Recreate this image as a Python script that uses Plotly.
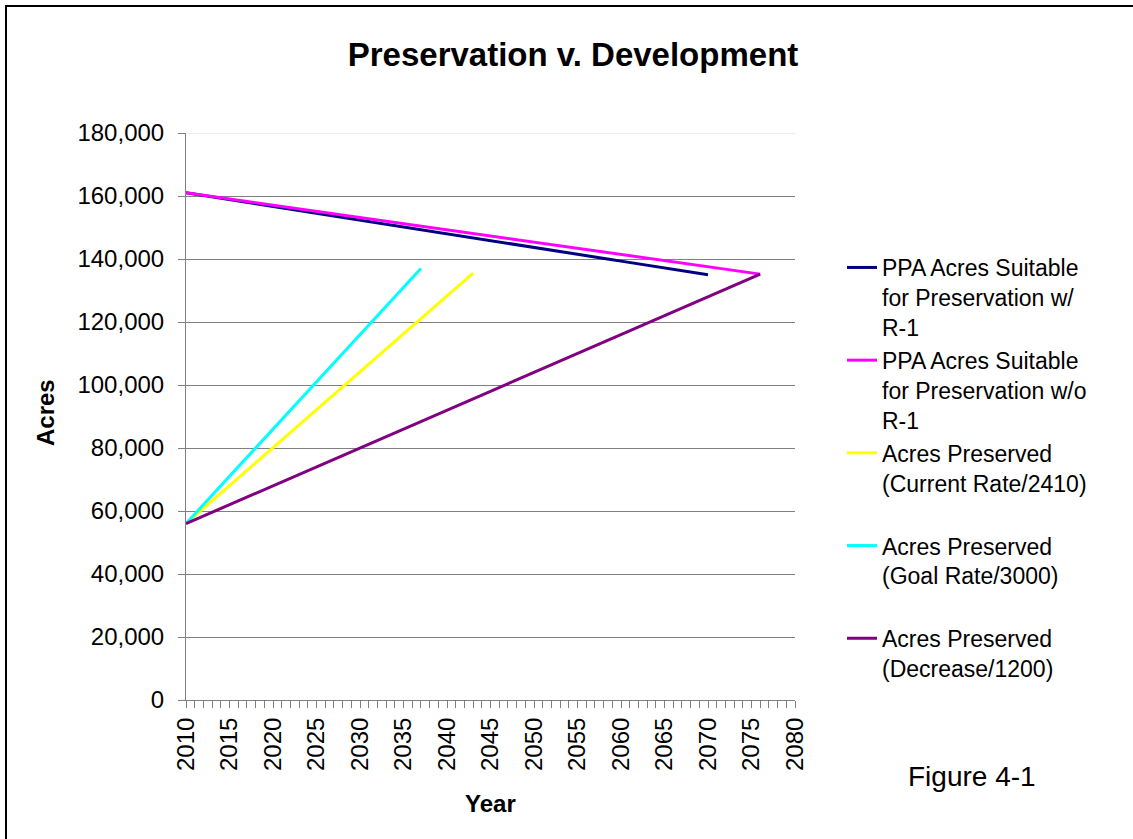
import plotly.graph_objects as go

# Year categories on the horizontal axis
years = list(range(2010, 2081))

# Acres suitable for preservation, with R-1 zoning (2010-2070)
ppa_with_r1 = [
    161000, 160570, 160130, 159700, 159270, 158830, 158400, 157970, 157530, 157100,
    156670, 156230, 155800, 155370, 154930, 154500, 154070, 153630, 153200, 152770,
    152330, 151900, 151470, 151030, 150600, 150170, 149730, 149300, 148870, 148430,
    148000, 147570, 147130, 146700, 146270, 145830, 145400, 144970, 144530, 144100,
    143670, 143230, 142800, 142370, 141930, 141500, 141070, 140630, 140200, 139770,
    139330, 138900, 138470, 138030, 137600, 137170, 136730, 136300, 135870, 135430,
    135000,
]

# Acres suitable for preservation, without R-1 zoning (2010-2076)
ppa_without_r1 = [
    161000, 160610, 160220, 159830, 159440, 159050, 158650, 158260, 157870, 157480,
    157090, 156700, 156310, 155920, 155530, 155140, 154740, 154350, 153960, 153570,
    153180, 152790, 152400, 152010, 151620, 151230, 150830, 150440, 150050, 149660,
    149270, 148880, 148490, 148100, 147710, 147320, 146920, 146530, 146140, 145750,
    145360, 144970, 144580, 144190, 143800, 143410, 143010, 142620, 142230, 141840,
    141450, 141060, 140670, 140280, 139890, 139500, 139100, 138710, 138320, 137930,
    137540, 137150, 136760, 136370, 135980, 135590, 135200,
]

# Acres preserved at the current rate of 2,410 acres per year (2010-2043)
preserved_current = [
    56000, 58410, 60820, 63230, 65640, 68050, 70460, 72870, 75280, 77690,
    80100, 82510, 84920, 87330, 89740, 92150, 94560, 96970, 99380, 101790,
    104200, 106610, 109020, 111430, 113840, 116250, 118660, 121070, 123480, 125890,
    128300, 130710, 133120, 135530,
]

# Acres preserved at the goal rate of 3,000 acres per year (2010-2037)
preserved_goal = [
    56000, 59000, 62000, 65000, 68000, 71000, 74000, 77000, 80000, 83000,
    86000, 89000, 92000, 95000, 98000, 101000, 104000, 107000, 110000, 113000,
    116000, 119000, 122000, 125000, 128000, 131000, 134000, 137000,
]

# Acres preserved at a decreased rate of 1,200 acres per year (2010-2076)
preserved_decrease = [
    56000, 57200, 58400, 59600, 60800, 62000, 63200, 64400, 65600, 66800,
    68000, 69200, 70400, 71600, 72800, 74000, 75200, 76400, 77600, 78800,
    80000, 81200, 82400, 83600, 84800, 86000, 87200, 88400, 89600, 90800,
    92000, 93200, 94400, 95600, 96800, 98000, 99200, 100400, 101600, 102800,
    104000, 105200, 106400, 107600, 108800, 110000, 111200, 112400, 113600, 114800,
    116000, 117200, 118400, 119600, 120800, 122000, 123200, 124400, 125600, 126800,
    128000, 129200, 130400, 131600, 132800, 134000, 135200,
]

series_values = [ppa_with_r1, ppa_without_r1, preserved_current,
                 preserved_goal, preserved_decrease]
series_names = [
    "PPA Acres Suitable<br>for Preservation w/<br>R-1",
    "PPA Acres Suitable<br>for Preservation w/o<br>R-1",
    "Acres Preserved<br>(Current Rate/2410)<br> ",
    "Acres Preserved<br>(Goal Rate/3000)<br> ",
    "Acres Preserved<br>(Decrease/1200)<br> ",
]
series_colors = ["#000080", "#FF00FF", "#FFFF00", "#00FFFF", "#800080"]

y_ticks = [0, 20000, 40000, 60000, 80000, 100000, 120000, 140000, 160000, 180000]
x_ticks = list(range(2010, 2081, 5))

FONT = "Liberation Sans, Arial, sans-serif"
W, H = 1133, 839
L, R, T, B = 186, 795, 133, 700   # plot area edges in pixels
pw, ph = R - L, B - T


def px(x):
    return (x - L) / pw


def py(y):
    return (B - y) / ph


fig = go.Figure()
for vals, name, color in zip(series_values, series_names, series_colors):
    fig.add_trace(go.Scatter(
        x=years[:len(vals)], y=vals, name=name, mode="lines",
        line=dict(color=color, width=3),
    ))

fig.update_layout(
    width=W, height=H,
    margin=dict(l=L, r=W - R, t=T, b=H - B, autoexpand=False),
    paper_bgcolor="white", plot_bgcolor="white",
    font=dict(family=FONT, color="black", size=24),
    title=dict(text="<b>Preservation v. Development</b>",
               font=dict(family=FONT, size=33, color="black"),
               x=573 / W, xanchor="center", xref="container",
               y=1 - 54 / H, yanchor="middle", yref="container"),
    showlegend=True,
    legend=dict(x=px(842), y=py(246), xanchor="left", yanchor="top",
                font=dict(family=FONT, size=23, color="black"),
                valign="top", bgcolor="rgba(0,0,0,0)", tracegroupgap=0,
                itemwidth=30),
    xaxis=dict(range=[2010, 2080], tickmode="array", tickvals=x_ticks,
               ticktext=[str(v) for v in x_ticks], tickangle=-90,
               ticks="outside", ticklen=7, tickcolor="#808080", tickwidth=1,
               showline=True, linecolor="#808080", linewidth=1,
               showgrid=False, zeroline=False,
               tickfont=dict(family=FONT, size=24, color="black"),
               minor=dict(dtick=1, tick0=2010, ticks="outside", ticklen=7,
                          tickcolor="#808080", tickwidth=1, showgrid=False)),
    yaxis=dict(range=[0, 180000], tickmode="array", tickvals=y_ticks,
               tickformat=",d", ticks="outside", ticklen=7,
               tickcolor="#808080", tickwidth=1, ticklabelstandoff=9,
               showline=True, linecolor="#808080", linewidth=1,
               showgrid=True, gridcolor="#808080", gridwidth=1,
               zeroline=False,
               tickfont=dict(family=FONT, size=24, color="black")),
)

# Light top edge of the plot area and outer chart frame
fig.add_shape(type="line", xref="paper", yref="y", x0=0, x1=1,
              y0=180000, y1=180000, line=dict(color="#dadada", width=1),
              layer="above")
fig.add_shape(type="rect", xref="paper", yref="paper",
              x0=px(6), x1=px(1160), y0=py(860), y1=py(6),
              line=dict(color="black", width=2), layer="below")

fig.add_annotation(text="<b>Acres</b>", xref="paper", yref="paper",
                   x=px(45), y=py(413), textangle=-90, showarrow=False,
                   xanchor="center", yanchor="middle",
                   font=dict(family=FONT, size=24, color="black"))
fig.add_annotation(text="<b>Year</b>", xref="paper", yref="paper",
                   x=px(490), y=py(803), showarrow=False,
                   xanchor="center", yanchor="middle",
                   font=dict(family=FONT, size=24, color="black"))
fig.add_annotation(text="Figure 4-1", xref="paper", yref="paper",
                   x=px(972), y=py(776), showarrow=False,
                   xanchor="center", yanchor="middle",
                   font=dict(family=FONT, size=28, color="black"))

fig.write_html("out.html")
